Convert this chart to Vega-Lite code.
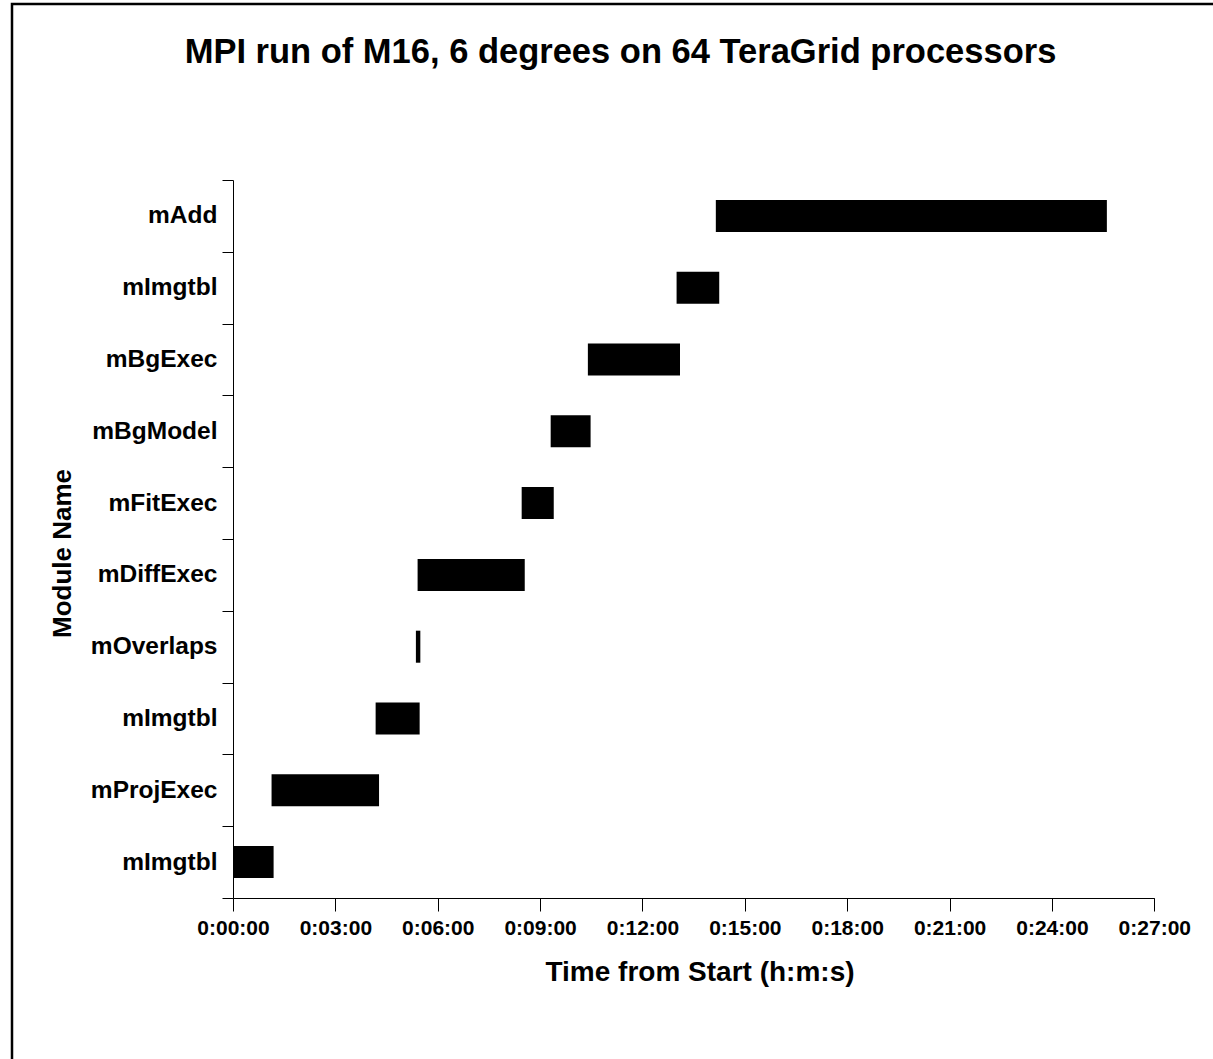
{
  "$schema": "https://vega.github.io/schema/vega-lite/v6.json",
  "width": 1201,
  "height": 1055,
  "autosize": "none",
  "padding": {"left": 12, "top": 4, "right": 0, "bottom": 0},
  "background": "white",
  "title": {
    "text": "MPI run of M16, 6 degrees on 64 TeraGrid processors",
    "font": "Liberation Sans",
    "fontSize": 34.5,
    "fontWeight": "bold",
    "color": "black",
    "anchor": "middle",
    "dx": 8,
    "offset": -79
  },
  "config": {
    "font": "Liberation Sans",
    "view": {
      "stroke": "black",
      "strokeWidth": 2.5,
      "strokeDash": [1201, 2256, 1100, 20]
    }
  },
  "data": {
    "values": [
      {"task": "mAdd", "start": 14.15, "end": 25.61},
      {"task": "mImgtbl 3", "start": 13.0, "end": 14.25},
      {"task": "mBgExec", "start": 10.4, "end": 13.1},
      {"task": "mBgModel", "start": 9.31, "end": 10.48},
      {"task": "mFitExec", "start": 8.46, "end": 9.4},
      {"task": "mDiffExec", "start": 5.41, "end": 8.55},
      {"task": "mOverlaps", "start": 5.36, "end": 5.49},
      {"task": "mImgtbl 2", "start": 4.18, "end": 5.47},
      {"task": "mProjExec", "start": 1.13, "end": 4.28},
      {"task": "mImgtbl 1", "start": 0, "end": 1.19}
    ]
  },
  "mark": {"type": "bar", "color": "black", "height": {"band": 0.446}},
  "encoding": {
    "x": {
      "field": "start",
      "type": "quantitative",
      "scale": {"domain": [0, 27], "range": [221, 1142.3], "nice": false, "zero": false},
      "axis": {
        "values": [0, 3, 6, 9, 12, 15, 18, 21, 24, 27],
        "labelExpr": "'0:' + (datum.value < 10 ? '0' : '') + datum.value + ':00'",
        "offset": -161,
        "grid": false,
        "domainColor": "black",
        "tickColor": "black",
        "tickSize": 13,
        "labelFontSize": 21,
        "labelFontWeight": "bold",
        "labelColor": "black",
        "labelPadding": 6,
        "labelFlush": false,
        "labelOverlap": false,
        "title": "Time from Start (h:m:s)",
        "titleFontSize": 28,
        "titleFontWeight": "bold",
        "titleColor": "black",
        "titlePadding": 20,
        "titleX": 687.5
      }
    },
    "x2": {"field": "end"},
    "y": {
      "field": "task",
      "type": "nominal",
      "sort": null,
      "scale": {"range": [176, 894], "paddingInner": 0, "paddingOuter": 0},
      "axis": {
        "labelExpr": "isString(datum.value) ? split(datum.value, ' ')[0] : ''",
        "offset": -221,
        "tickBand": "extent",
        "grid": false,
        "domainColor": "black",
        "tickColor": "black",
        "tickSize": 11,
        "labelFontSize": 24.5,
        "labelFontWeight": "bold",
        "labelColor": "black",
        "labelPadding": 5,
        "title": "Module Name",
        "titleFontSize": 26,
        "titleFontWeight": "bold",
        "titleColor": "black",
        "titlePadding": 15,
        "titleY": 549
      }
    }
  }
}
